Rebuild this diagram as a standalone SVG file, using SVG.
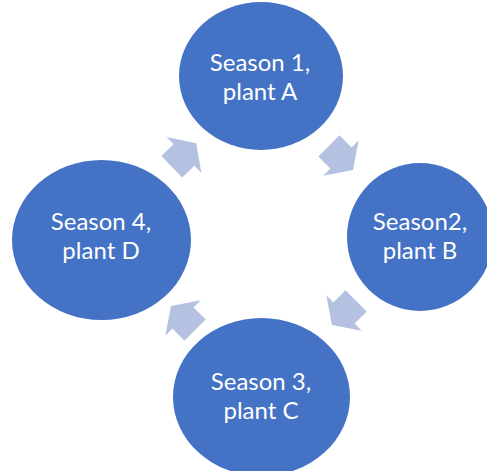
<svg xmlns="http://www.w3.org/2000/svg" width="487" height="471" viewBox="0 0 487 471">
<defs>
<style>
.node{fill:#4472C4}
.lbl{font-family:Lato,"Open Sans",sans-serif;font-size:24px;fill:#FFFFFF;text-anchor:middle}
.arr{fill:#B4C1E1}
</style>
<polygon id="arrowShape" points="-17,-15 0,-15 0,-25 17,0 0,25 0,15 -17,15"/>
</defs>
<rect width="487" height="471" fill="#FFFFFF"/>
<g id="connectors">
<use href="#arrowShape" class="arr" transform="translate(184,155) rotate(-44)"/>
<use href="#arrowShape" class="arr" transform="translate(341,158) rotate(45)"/>
<use href="#arrowShape" class="arr" transform="translate(344,313) rotate(135)"/>
<use href="#arrowShape" class="arr" transform="translate(183,318) rotate(225)"/>
</g>
<g id="season1">
<ellipse class="node" cx="261" cy="76" rx="82" ry="74"/>
<text class="lbl" x="260" y="71">Season 1,</text>
<text class="lbl" x="260" y="100">plant A</text>
</g>
<g id="season2">
<ellipse class="node" cx="420" cy="237" rx="73" ry="74"/>
<text class="lbl" x="420" y="230">Season2,</text>
<text class="lbl" x="420" y="259">plant B</text>
</g>
<g id="season3">
<ellipse class="node" cx="261.5" cy="397" rx="88.5" ry="79"/>
<text class="lbl" x="261" y="390">Season 3,</text>
<text class="lbl" x="261" y="419">plant C</text>
</g>
<g id="season4">
<ellipse class="node" cx="101.5" cy="240" rx="89.5" ry="80"/>
<text class="lbl" x="101" y="230">Season 4,</text>
<text class="lbl" x="101" y="259">plant D</text>
</g>
</svg>
